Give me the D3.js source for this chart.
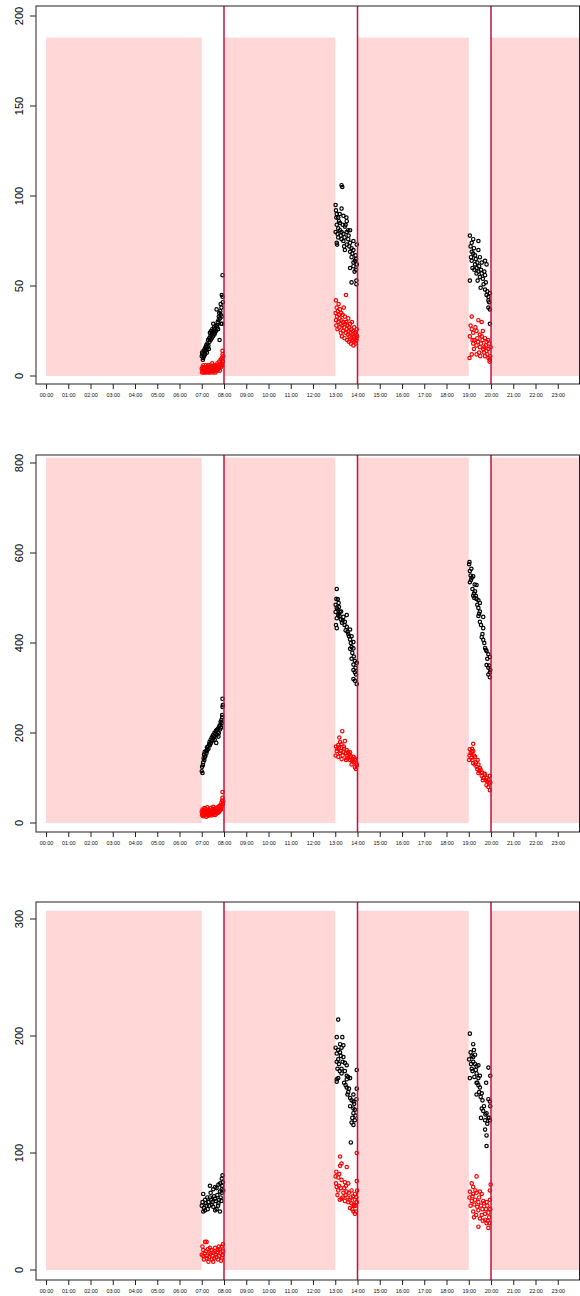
<!DOCTYPE html>
<html><head><meta charset="utf-8">
<script src="https://cdn.jsdelivr.net/npm/d3@7"></script>
<style>body{margin:0;background:#fff}svg{display:block}text{font-family:"Liberation Sans",Arial,Helvetica,sans-serif}</style>
</head><body>
<script>
// ---- data ----
const tickLabels = ["00:00","01:00","02:00","03:00","04:00","05:00","06:00","07:00","08:00","09:00","10:00","11:00","12:00","13:00","14:00","15:00","16:00","17:00","18:00","19:00","20:00","21:00","22:00","23:00"];
const tickHours = [0,1,2,3,4,5,6,7,8,9,10,11,12,13,14,15,16,17,18,19,20,21,22,23];
const shadeStart = [0, 8, 14, 20];
const shadeEnd = [7, 13, 19, 24];
const markerHours = [8, 14, 20];
const windowHours = [7, 13, 19];
const yTicks1 = [0,50,100,150,200];
const yTicks2 = [0,200,400,600,800];
const yTicks3 = [0,100,200,300];
const shadeTop = [188, 812, 307];

// [minute within hour, value]
const p1_07_black = [[0,11],[1,13],[2,12],[3,9],[4,10],[5,14],[6,11],[7,13],[8,15],[9,12],[10,16],[11,14],[12,17],[13,15],[14,13],[15,18],[16,16],[17,20],[18,17],[19,15],[20,21],[21,19],[22,24],[23,22],[24,20],[25,25],[26,23],[27,21],[28,26],[29,24],[30,22],[31,29],[32,25],[33,27],[34,23],[35,26],[36,24],[37,28],[38,25],[40,37],[41,28],[42,27],[43,30],[44,26],[45,31],[46,33],[47,35],[48,20],[49,32],[50,36],[51,40],[51,34],[52,29],[53,38],[54,33],[54,45],[55,29],[56,44],[56,56],[57,41]];
const p1_07_red = [[0,4],[1,2],[2,5],[3,3],[4,6],[5,2],[6,4],[7,3],[8,5],[9,2],[10,4],[11,6],[12,3],[13,5],[14,2],[15,4],[16,3],[17,6],[18,4],[19,2],[20,5],[21,3],[22,4],[23,6],[24,2],[25,5],[26,3],[27,4],[28,7],[29,3],[30,5],[31,2],[32,4],[33,6],[34,3],[35,5],[36,4],[37,2],[38,6],[39,3],[40,5],[41,4],[42,7],[43,3],[44,5],[45,6],[46,4],[47,8],[48,5],[49,3],[50,6],[51,9],[52,5],[53,7],[54,10],[55,6],[56,14],[56,12],[57,8],[58,11]];
const p1_13_black = [[1,95],[2,92],[3,88],[4,90],[17,106],[19,105],[17,93],[8,88],[13,85],[22,89],[30,88],[31,86],[4,84],[8,82],[17,80],[26,83],[35,81],[1,80],[13,81],[22,79],[31,80],[40,81],[8,77],[17,76],[4,74],[5,73],[22,75],[31,73],[40,74],[49,75],[58,73],[26,70],[40,69],[44,71],[49,70],[44,66],[49,63],[53,64],[56,65],[40,60],[49,61],[56,59],[58,62],[44,52],[57,53],[57,51],[10,86],[15,78],[25,77],[35,76],[28,84],[12,90],[20,84],[38,72],[46,68],[52,58],[55,67],[36,78],[6,79],[24,72]];
const p1_13_red = [[1,35],[2,31],[3,28],[4,38],[5,33],[6,26],[7,36],[8,30],[9,40],[10,34],[11,27],[12,32],[13,37],[14,29],[15,24],[16,35],[17,31],[18,22],[19,28],[20,34],[21,25],[22,30],[23,38],[24,27],[25,21],[26,33],[27,29],[28,24],[29,45],[30,30],[31,26],[32,20],[33,28],[34,23],[35,32],[36,25],[37,19],[38,27],[39,22],[40,29],[41,24],[42,18],[43,26],[44,21],[45,30],[46,23],[47,20],[48,25],[49,17],[50,22],[51,27],[52,19],[53,24],[54,21],[55,18],[56,23],[57,20],[58,26],[59,22],[2,42]];
const p1_19_black = [[3,78],[12,76],[8,74],[26,75],[8,69],[12,68],[17,67],[26,70],[30,66],[8,64],[17,62],[21,60],[26,58],[35,63],[44,64],[48,62],[21,57],[30,55],[35,57],[44,56],[3,53],[32,49],[44,48],[48,45],[53,44],[57,46],[53,42],[53,38],[57,37],[57,29],[5,72],[14,71],[10,60],[19,65],[23,63],[28,61],[33,59],[38,54],[40,51],[46,52],[50,47],[55,41],[6,66],[15,59],[24,53],[42,58]];
const p1_19_red = [[8,33],[26,31],[35,30],[8,26],[12,24],[21,25],[30,23],[35,22],[44,21],[48,19],[12,18],[21,17],[30,16],[39,15],[48,14],[53,15],[8,12],[21,12],[44,11],[53,10],[57,9],[3,22],[5,28],[15,20],[18,27],[25,19],[28,13],[33,18],[38,25],[41,13],[46,17],[50,12],[55,18],[58,11],[2,10],[10,20],[14,15],[23,21],[37,20],[52,20],[56,8],[59,16],[42,16],[31,11]];

const p2_07_black = [[0,115],[1,125],[2,111],[3,129],[4,135],[5,144],[6,152],[7,140],[8,158],[9,147],[10,150],[12,160],[13,156],[14,168],[15,162],[17,170],[18,165],[20,175],[21,180],[22,173],[24,185],[25,178],[27,190],[28,183],[30,195],[31,188],[33,192],[34,200],[35,185],[37,198],[38,205],[40,195],[41,207],[43,202],[44,210],[46,200],[47,215],[49,208],[50,218],[51,225],[52,212],[53,229],[54,222],[55,235],[56,258],[56,276],[57,262],[55,240],[45,192],[39,178]];
const p2_07_red = [[0,25],[1,18],[2,30],[3,22],[4,15],[5,28],[6,20],[7,33],[8,17],[9,26],[10,21],[11,31],[12,14],[13,24],[14,19],[15,35],[16,22],[17,27],[18,16],[19,30],[20,23],[21,18],[22,28],[23,25],[24,20],[25,33],[26,17],[27,26],[28,30],[29,21],[30,24],[31,36],[32,19],[33,27],[34,23],[35,32],[36,18],[37,29],[38,25],[39,21],[40,34],[41,27],[42,22],[43,31],[44,26],[45,36],[46,24],[47,30],[48,38],[49,28],[50,33],[51,40],[52,30],[53,45],[54,37],[55,50],[56,56],[56,69],[57,42],[58,48]];
const p2_13_black = [[4,520],[1,485],[4,478],[9,489],[12,470],[1,469],[9,465],[12,460],[4,455],[2,440],[4,433],[8,462],[22,458],[31,462],[26,447],[31,436],[40,430],[35,420],[44,415],[40,408],[49,402],[44,391],[40,387],[49,388],[44,365],[53,360],[49,352],[58,356],[49,340],[53,335],[49,320],[53,316],[58,309],[6,475],[15,452],[18,445],[20,450],[25,440],[28,428],[33,425],[37,415],[42,400],[46,378],[50,370],[55,345],[56,330],[16,470],[7,497],[3,498],[10,480]];
const p2_13_red = [[19,204],[13,180],[8,173],[17,175],[26,182],[4,160],[13,155],[22,158],[31,162],[40,157],[8,147],[17,142],[31,144],[40,140],[49,147],[53,143],[44,130],[53,124],[58,128],[2,170],[6,165],[10,168],[15,160],[20,150],[24,165],[28,155],[33,150],[36,145],[38,152],[42,148],[46,138],[50,135],[55,140],[57,132],[1,150],[11,190],[23,170],[29,140],[35,158],[47,142],[56,120]];
const p2_19_black = [[3,560],[5,550],[8,545],[3,535],[12,548],[1,575],[2,580],[21,529],[17,515],[12,505],[21,498],[26,495],[30,489],[26,478],[30,470],[26,460],[39,458],[30,447],[39,433],[35,413],[39,407],[44,389],[48,382],[53,375],[57,369],[48,351],[53,345],[57,335],[53,330],[57,324],[6,540],[10,520],[14,510],[16,530],[19,505],[23,485],[28,465],[33,440],[37,420],[42,400],[46,385],[50,365],[55,350],[58,340],[7,565],[15,500]];
const p2_19_red = [[12,176],[3,164],[8,158],[12,160],[17,147],[12,133],[21,125],[26,130],[30,122],[26,111],[35,105],[44,108],[48,100],[53,96],[48,84],[53,80],[57,73],[2,150],[5,155],[7,145],[10,140],[14,150],[16,130],[19,135],[23,120],[28,115],[32,118],[36,112],[40,100],[42,110],[46,95],[50,92],[55,88],[58,90],[1,140],[9,165],[24,140],[38,95],[57,105]];

const p3_07_black = [[4,50],[9,51],[36,51],[49,50],[4,65],[22,62],[36,61],[45,57],[9,60],[18,58],[27,56],[13,55],[31,54],[40,52],[53,59],[31,69],[40,70],[49,67],[54,66],[22,72],[36,71],[45,73],[54,69],[56,81],[54,78],[0,55],[2,58],[6,53],[11,57],[15,62],[20,55],[25,60],[29,58],[33,63],[38,59],[42,64],[47,60],[51,62],[55,72],[57,75],[16,52],[24,66],[44,55],[50,74],[58,68]];
const p3_07_red = [[9,24],[13,24],[4,17],[22,19],[31,15],[45,17],[54,20],[4,12],[13,10],[27,9],[40,11],[54,10],[18,7],[31,7],[0,13],[2,20],[6,9],[8,14],[11,16],[15,12],[17,18],[20,11],[24,14],[26,17],[29,12],[33,10],[35,16],[38,13],[42,15],[44,9],[47,12],[49,18],[51,14],[56,13],[57,22],[58,16],[36,19],[52,8],[21,15],[46,20]];
const p3_13_black = [[8,214],[4,199],[19,199],[13,193],[17,190],[8,188],[22,192],[13,186],[4,185],[8,180],[22,182],[26,177],[31,175],[4,178],[17,172],[26,170],[58,171],[17,168],[8,164],[31,166],[35,165],[40,164],[4,163],[31,163],[4,161],[31,156],[35,152],[58,155],[49,150],[40,147],[44,145],[49,144],[40,140],[49,138],[53,137],[49,134],[53,128],[49,124],[44,126],[42,109],[1,190],[10,176],[15,183],[20,178],[24,160],[28,158],[33,150],[37,155],[46,130],[51,142],[55,132],[57,146],[12,170],[6,172]];
const p3_13_red = [[58,100],[13,97],[17,91],[31,88],[13,89],[1,80],[8,79],[17,77],[26,75],[35,74],[58,76],[4,71],[8,68],[22,66],[31,67],[44,68],[53,65],[17,61],[26,59],[35,58],[44,57],[49,56],[53,60],[40,53],[49,50],[53,48],[2,74],[6,64],[10,72],[12,60],[15,70],[20,62],[24,70],[28,64],[33,62],[37,66],[39,60],[42,62],[46,52],[48,63],[51,55],[55,55],[56,50],[57,62],[58,58],[3,84],[11,82],[29,72],[59,68]];
const p3_19_black = [[3,202],[12,193],[5,186],[8,183],[12,182],[17,184],[12,178],[17,176],[21,174],[26,175],[8,172],[21,168],[30,166],[26,164],[53,173],[58,166],[3,164],[21,160],[26,158],[30,156],[35,151],[21,150],[53,146],[57,144],[35,138],[39,136],[48,134],[53,130],[44,128],[57,128],[44,120],[48,115],[48,106],[1,180],[6,176],[10,170],[15,165],[19,171],[23,160],[28,152],[32,148],[37,145],[41,140],[45,133],[50,125],[55,130],[58,140],[14,188],[33,130],[47,160]];
const p3_19_red = [[21,80],[8,74],[12,71],[59,73],[3,67],[12,65],[21,66],[30,67],[35,65],[57,68],[8,59],[17,60],[26,58],[39,59],[48,58],[57,60],[12,50],[26,51],[35,47],[44,48],[53,49],[30,44],[44,43],[48,40],[53,36],[26,37],[2,62],[5,55],[10,63],[15,56],[18,68],[23,54],[28,62],[33,55],[37,52],[41,57],[46,52],[50,55],[55,45],[58,52],[14,45],[20,47],[38,42],[51,42],[56,40]];

// ---- layout ----
const W = 580, H = 1296;
const panels = [
  {ticks: yTicks1, shade: shadeTop[0], boxTop: 6, boxBot: 384, zeroY: 376, maxY: 16,
   black: [p1_07_black, p1_13_black, p1_19_black], red: [p1_07_red, p1_13_red, p1_19_red]},
  {ticks: yTicks2, shade: shadeTop[1], boxTop: 455, boxBot: 832, zeroY: 823, maxY: 463,
   black: [p2_07_black, p2_13_black, p2_19_black], red: [p2_07_red, p2_13_red, p2_19_red]},
  {ticks: yTicks3, shade: shadeTop[2], boxTop: 902, boxBot: 1280, zeroY: 1270, maxY: 919,
   black: [p3_07_black, p3_13_black, p3_19_black], red: [p3_07_red, p3_13_red, p3_19_red]}
];
const boxLeft = 36, boxRight = 579.5;
const x = d3.scaleLinear().domain([0, 24]).range([46, 580]);

const svg = d3.select("body").append("svg").attr("width", W).attr("height", H);

panels.forEach(p => {
  const y = d3.scaleLinear().domain([0, d3.max(p.ticks)]).range([p.zeroY, p.maxY]);
  const g = svg.append("g");
  g.selectAll("rect.shade").data(shadeStart.map((s, i) => [s, shadeEnd[i]])).enter()
    .append("rect").attr("class", "shade")
    .attr("x", d => x(d[0])).attr("width", d => x(d[1]) - x(d[0]))
    .attr("y", y(p.shade)).attr("height", y(0) - y(p.shade))
    .attr("fill", "#ffd7d7");
  const toPts = (arrs) => arrs.flatMap((arr, wi) => arr.map(d => [windowHours[wi] + d[0] / 60, d[1]]));
  g.selectAll("circle.blk").data(toPts(p.black)).enter().append("circle")
    .attr("cx", d => x(d[0])).attr("cy", d => y(d[1])).attr("r", 1.7)
    .attr("fill", "none").attr("stroke", "#000").attr("stroke-width", 1.2);
  g.selectAll("circle.red").data(toPts(p.red)).enter().append("circle")
    .attr("cx", d => x(d[0])).attr("cy", d => y(d[1])).attr("r", 1.7)
    .attr("fill", "none").attr("stroke", "#ff0000").attr("stroke-width", 1.2);
  g.selectAll("line.mark").data(markerHours).enter().append("line")
    .attr("x1", d => x(d)).attr("x2", d => x(d))
    .attr("y1", p.boxTop).attr("y2", p.boxBot)
    .attr("stroke", "#c0143c").attr("stroke-width", 1.5);
  g.append("rect").attr("x", boxLeft).attr("y", p.boxTop)
    .attr("width", boxRight - boxLeft).attr("height", p.boxBot - p.boxTop)
    .attr("fill", "none").attr("stroke", "#222").attr("stroke-width", 1);
  const ya = g.append("g").attr("transform", `translate(${boxLeft},0)`)
    .call(d3.axisLeft(y).tickValues(p.ticks).tickSize(6).tickFormat(d3.format("d")));
  ya.select(".domain").remove();
  ya.selectAll(".tick").attr("transform", null);
  ya.selectAll(".tick line").attr("stroke", "#222").attr("y1", d => y(d)).attr("y2", d => y(d));
  ya.selectAll(".tick text").attr("font-size", 11).attr("fill", "#000")
    .attr("text-anchor", "middle").attr("dy", 0).attr("x", 0).attr("y", 0)
    .attr("transform", d => `translate(-13,${y(d)}) rotate(-90)`);
  const xa = g.append("g").attr("transform", `translate(0,${p.boxBot})`)
    .call(d3.axisBottom(x).tickValues(tickHours).tickSize(5).tickFormat((d, i) => tickLabels[i]));
  xa.select(".domain").remove();
  xa.selectAll("line").attr("stroke", "#222");
  xa.selectAll("text").attr("font-size", 5.5).attr("fill", "#111").attr("y", 9).attr("dy", "0.71em");
});
</script>
</body></html>
